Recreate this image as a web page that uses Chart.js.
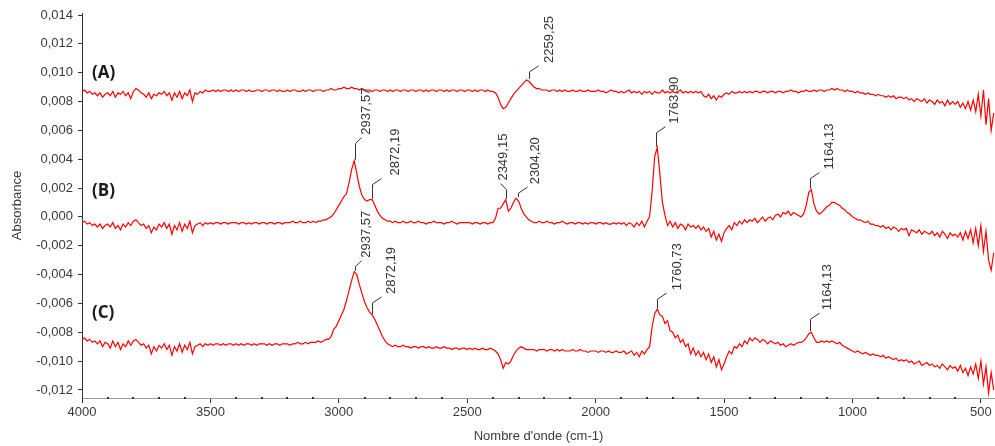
<!DOCTYPE html>
<html>
<head>
<meta charset="utf-8">
<script src="https://cdn.jsdelivr.net/npm/chart.js@4.4.0/dist/chart.umd.min.js"></script>
<style>
  html, body { margin: 0; padding: 0; background: #fff; }
  #wrap { width: 995px; height: 446px; position: relative; }
</style>
</head>
<body>
<div id="wrap"><canvas id="spectra"></canvas></div>
<script>
// IR spectra, sampled every 10 cm-1 from 4000 down to 450
// absorbance values are stored in units of 1e-4
const WN_START = 4000;
const WN_STEP = 10;

const absA = [
    87, 88, 86, 87, 85, 86, 84, 86, 83, 85,
    86, 84, 87, 83, 86, 85, 87, 84, 86, 82,
    87, 89, 88, 86, 85, 83, 86, 82, 85, 84,
    86, 85, 87, 84, 86, 81, 86, 83, 87, 82,
    86, 84, 88, 80, 86, 85, 87, 86, 88, 87,
    87, 88, 87, 88, 87, 88, 88, 87, 88, 87,
    88, 87, 88, 88, 87, 88, 87, 87, 88, 88,
    87, 88, 88, 87, 88, 88, 87, 88, 87, 87,
    88, 87, 88, 88, 87, 87, 88, 87, 88, 88,
    87, 88, 88, 88, 87, 88, 88, 89, 88, 88,
    89, 89, 90, 89, 89, 90, 89, 89, 88, 89,
    88, 88, 88, 87, 88, 88, 87, 88, 88, 87,
    88, 87, 88, 88, 87, 88, 88, 87, 88, 88,
    87, 88, 88, 87, 88, 87, 88, 88, 87, 88,
    88, 87, 88, 87, 88, 88, 87, 88, 88, 87,
    88, 88, 87, 88, 87, 88, 88, 87, 88, 87,
    87, 86, 83, 78, 75, 76, 79, 82, 85, 87,
    89, 91, 93, 95, 94, 92, 90, 89, 89, 88,
    88, 88, 87, 88, 88, 87, 88, 87, 88, 87,
    87, 88, 87, 87, 88, 87, 87, 88, 87, 87,
    87, 88, 87, 87, 86, 87, 88, 87, 87, 86,
    87, 86, 87, 88, 86, 87, 86, 87, 85, 87,
    86, 87, 85, 87, 86, 86, 88, 86, 87, 86,
    87, 86, 87, 88, 86, 87, 86, 87, 86, 87,
    86, 87, 84, 83, 85, 82, 84, 81, 84, 83,
    85, 86, 85, 87, 86, 86, 87, 86, 87, 86,
    87, 86, 87, 87, 86, 87, 87, 86, 87, 87,
    86, 87, 87, 86, 87, 87, 88, 87, 87, 86,
    87, 87, 88, 87, 87, 88, 87, 88, 88, 87,
    88, 88, 89, 88, 89, 88, 88, 87, 88, 87,
    87, 86, 87, 86, 86, 85, 86, 85, 85, 84,
    85, 84, 84, 83, 84, 83, 84, 82, 83, 83,
    82, 83, 81, 82, 80, 82, 81, 80, 82, 79,
    81, 80, 78, 81, 79, 80, 77, 81, 78, 80,
    78, 80, 76, 79, 75, 80, 74, 81, 73, 85,
    70, 88, 64, 82, 60, 72
];

const absB = [
    -4, -3, -5, -4, -6, -5, -7, -5, -8, -6,
    -5, -7, -4, -8, -6, -9, -5, -7, -4, -6,
    -3, -2, -4, -6, -5, -8, -6, -11, -7, -9,
    -5, -7, -4, -8, -5, -12, -6, -9, -4, -10,
    -5, -8, -3, -11, -6, -5, -4, -6, -4, -5,
    -4, -5, -4, -4, -5, -4, -4, -5, -4, -4,
    -4, -5, -4, -4, -5, -4, -5, -4, -4, -5,
    -4, -4, -5, -4, -4, -5, -4, -4, -5, -4,
    -4, -4, -3, -4, -4, -3, -4, -4, -3, -4,
    -3, -4, -3, -3, -2, -2, -1, 0, 2, 5,
    8, 11, 14, 16, 24, 33, 39, 30, 21, 15,
    12, 11, 12, 12, 8, 4, 1, -1, -2, -3,
    -3, -4, -3, -4, -4, -3, -4, -4, -3, -4,
    -4, -3, -4, -4, -5, -4, -4, -3, -4, -4,
    -4, -5, -4, -4, -3, -4, -5, -4, -4, -4,
    -4, -4, -5, -4, -4, -5, -4, -4, -5, -4,
    -4, -1, 6, 6, 9, 12, 4, 6, 10, 13,
    11, 6, 2, 0, -2, -3, -4, -4, -3, -4,
    -4, -3, -4, -4, -5, -4, -4, -3, -4, -5,
    -4, -4, -5, -4, -4, -5, -4, -5, -4, -4,
    -5, -4, -4, -5, -4, -5, -5, -4, -5, -4,
    -5, -4, -6, -4, -5, -7, -4, -6, -3, -7,
    -3, 0, 18, 42, 48, 30, 10, 1, -6, -3,
    -7, -4, -8, -5, -6, -9, -5, -7, -6, -8,
    -6, -9, -7, -10, -8, -14, -10, -16, -12, -17,
    -11, -8, -6, -9, -4, -6, -3, -5, -2, -4,
    -2, -3, -1, -4, -2, 0, -3, -1, 0, -2,
    1, 2, 0, 3, 2, 4, 1, 3, 2, 1,
    0, 2, 8, 17, 19, 9, 4, 2, 3, 5,
    7, 8, 10, 10, 9, 8, 6, 5, 3, 2,
    0, -1, -2, -2, -3, -4, -3, -5, -5, -6,
    -6, -7, -6, -8, -7, -9, -7, -8, -10, -8,
    -9, -8, -13, -9, -10, -11, -9, -12, -10, -11,
    -12, -10, -13, -11, -14, -10, -12, -15, -11, -13,
    -12, -14, -11, -16, -10, -15, -9, -18, -8, -20,
    -6, -24, -10, -30, -37, -25
];

const absC = [
    -85, -84, -86, -85, -87, -86, -88, -86, -90, -87,
    -88, -91, -86, -90, -87, -92, -88, -90, -86, -89,
    -86, -85, -87, -89, -88, -91, -89, -95, -90, -93,
    -89, -91, -88, -92, -89, -96, -90, -93, -88, -94,
    -89, -92, -87, -95, -90, -89, -88, -90, -88, -89,
    -88, -89, -88, -88, -89, -88, -89, -88, -88, -89,
    -88, -89, -88, -89, -88, -88, -89, -88, -89, -88,
    -88, -88, -89, -88, -89, -88, -88, -89, -88, -88,
    -88, -89, -88, -88, -87, -88, -88, -87, -88, -87,
    -87, -87, -86, -87, -86, -85, -85, -83, -78, -76,
    -72, -68, -64, -58, -51, -44, -38, -40, -47, -53,
    -59, -63, -66, -68, -71, -75, -79, -83, -86, -88,
    -89, -90, -89, -90, -90, -89, -90, -90, -91, -90,
    -90, -91, -90, -90, -91, -90, -91, -91, -90, -91,
    -91, -90, -91, -91, -92, -91, -91, -92, -91, -91,
    -92, -91, -92, -91, -92, -92, -91, -92, -92, -91,
    -92, -93, -95, -99, -105, -101, -102, -100, -96, -93,
    -91, -90, -91, -92, -92, -92, -92, -93, -92, -92,
    -92, -93, -92, -92, -93, -92, -93, -92, -93, -93,
    -93, -92, -93, -93, -92, -93, -93, -94, -93, -93,
    -93, -94, -93, -93, -94, -93, -94, -94, -93, -94,
    -94, -93, -95, -94, -93, -96, -94, -97, -93, -95,
    -92, -90, -76, -67, -64, -68, -69, -74, -72, -79,
    -80, -84, -82, -87, -85, -90, -88, -95, -91, -96,
    -93, -97, -94, -99, -95, -101, -97, -104, -99, -106,
    -102, -97, -93, -95, -90, -91, -88, -90, -86, -88,
    -84, -86, -84, -85, -87, -85, -86, -88, -86, -87,
    -88, -87, -89, -88, -90, -89, -88, -89, -88, -87,
    -87, -86, -84, -81, -80, -84, -87, -87, -86, -87,
    -86, -87, -86, -87, -88, -87, -89, -90, -91, -92,
    -93, -94, -93, -94, -95, -94, -95, -96, -95, -96,
    -96, -97, -96, -98, -97, -98, -99, -98, -100, -99,
    -100, -99, -101, -100, -102, -101, -100, -103, -102, -101,
    -103, -102, -104, -103, -105, -102, -104, -106, -103, -105,
    -104, -107, -103, -108, -105, -110, -104, -109, -102, -112,
    -100, -116, -104, -122, -108, -120
];

const xTicks = [4000, 3500, 3000, 2500, 2000, 1500, 1000, 500];
const yTicks = [0.014, 0.012, 0.010, 0.008, 0.006, 0.004, 0.002, 0.000,
    -0.002, -0.004, -0.006, -0.008, -0.010, -0.012];

// peak markers: wavenumber, absorbance (1e-4) at the peak, text, label offset, leader height
const peakWn = [2259.25, 2937.57, 2872.19, 2349.15, 2304.20, 1763.90, 1164.13, 2937.57, 2872.19, 1760.73, 1164.13];
const peakAbs = [95, 39, 12, 12, 13, 48, 19, -38, -68, -64, -80];
const peakText = ['2259,25', '2937,57', '2872,19', '2349,15', '2304,20', '1763,90', '1164,13', '2937,57', '2872,19', '1760,73', '1164,13'];
const peakDx = [20, 11, 23, -3, 17, 18, 19, 11, 19, 20, 17];
const peakLift = [7, 16, 14, 9, 4, 14, 10, 4, 11, 9, 12];

// curve names, placed left of each trace
const curveNames = ['(A)', '(B)', '(C)'];
const curveNameWn = [3961, 3961, 3961];
const curveNameAbs = [100, 18, -67];

const toPoints = arr => arr.map((v, i) => ({ x: WN_START - i * WN_STEP, y: v / 10000 }));

const fontFamily = "'Liberation Sans', Arial, sans-serif";

const peakMarks = {
    id: 'peakMarks',
    afterDatasetsDraw(chart) {
        const { ctx, scales: { x, y } } = chart;
        ctx.save();
        ctx.strokeStyle = '#333';
        ctx.fillStyle = '#333';
        ctx.lineWidth = 1;
        ctx.font = '13px ' + fontFamily;
        peakWn.forEach((wn, i) => {
            const px = Math.round(x.getPixelForValue(wn)) + 0.5;
            const py = y.getPixelForValue(peakAbs[i] / 10000) - 1;
            const dx = peakDx[i];
            const top = py - peakLift[i];
            const kx = dx > 0 ? px + Math.min(dx - 5, 9) : px - 6;
            ctx.beginPath();
            ctx.moveTo(px, py);
            ctx.lineTo(px, top);
            ctx.lineTo(kx, top - 6);
            ctx.stroke();
            ctx.save();
            ctx.translate(px + dx, top - 9);
            ctx.rotate(-Math.PI / 2);
            ctx.textAlign = 'left';
            ctx.textBaseline = 'middle';
            ctx.fillText(peakText[i], 0, 0);
            ctx.restore();
        });

        ctx.fillStyle = '#1a1a1a';
        ctx.font = "bold 17px 'Open Sans', sans-serif";
        ctx.textAlign = 'left';
        ctx.textBaseline = 'middle';
        curveNames.forEach((name, i) => {
            ctx.fillText(name, x.getPixelForValue(curveNameWn[i]), y.getPixelForValue(curveNameAbs[i] / 10000));
        });
        ctx.restore();
    },
    afterDraw(chart) {
        // small minor ticks every 100 cm-1 on the x axis
        const { ctx, scales: { x }, chartArea } = chart;
        ctx.save();
        ctx.fillStyle = '#333';
        for (let wn = 3900; wn > 450; wn -= 100) {
            if (wn % 500 === 0) continue;
            const px = x.getPixelForValue(wn);
            ctx.fillRect(Math.round(px) - 1, chartArea.bottom - 1, 2, 2);
        }
        ctx.restore();
    }
};

const traceStyle = {
    borderColor: '#ff0000',
    borderWidth: 1.2,
    pointRadius: 0,
    fill: false,
    tension: 0
};

new Chart(document.getElementById('spectra').getContext('2d'), {
    type: 'line',
    data: {
        datasets: [
            { label: 'A', data: toPoints(absA), ...traceStyle },
            { label: 'B', data: toPoints(absB), ...traceStyle },
            { label: 'C', data: toPoints(absC), ...traceStyle }
        ]
    },
    options: {
        responsive: true,
        maintainAspectRatio: false,
        animation: false,
        layout: { padding: { top: 13, right: 0, left: 0, bottom: 0 } },
        plugins: {
            legend: { display: false },
            tooltip: { enabled: false }
        },
        scales: {
            x: {
                type: 'linear',
                reverse: true,
                min: 445,
                max: 4000,
                afterBuildTicks: s => { s.ticks = xTicks.map(v => ({ value: v })); },
                afterFit: s => { s.height = 48; },
                border: { color: '#9a9a9a', width: 1 },
                grid: { drawOnChartArea: false, tickLength: 5, tickColor: '#333' },
                ticks: {
                    padding: 2,
                    color: '#3a3a3a',
                    font: { family: fontFamily, size: 13 },
                    maxRotation: 0,
                    callback: v => String(v)
                },
                title: {
                    display: true,
                    text: "Nombre d'onde (cm-1)",
                    color: '#3a3a3a',
                    font: { family: fontFamily, size: 13 },
                    padding: { top: 0, bottom: 2 }
                }
            },
            y: {
                type: 'linear',
                min: -0.01256,
                max: 0.01414,
                afterBuildTicks: s => { s.ticks = yTicks.map(v => ({ value: v })); },
                afterFit: s => { s.width = 82; },
                border: { color: '#333', width: 1, dash: [1, 2] },
                grid: { drawOnChartArea: false, tickLength: 4, tickColor: '#333' },
                ticks: {
                    padding: 5,
                    color: '#3a3a3a',
                    font: { family: fontFamily, size: 13 },
                    callback: v => v.toFixed(3).replace('.', ',')
                },
                title: {
                    display: true,
                    text: 'Absorbance',
                    color: '#3a3a3a',
                    font: { family: fontFamily, size: 13 },
                    padding: { top: 10, bottom: 0 }
                }
            }
        }
    },
    plugins: [peakMarks]
});
</script>
</body>
</html>
